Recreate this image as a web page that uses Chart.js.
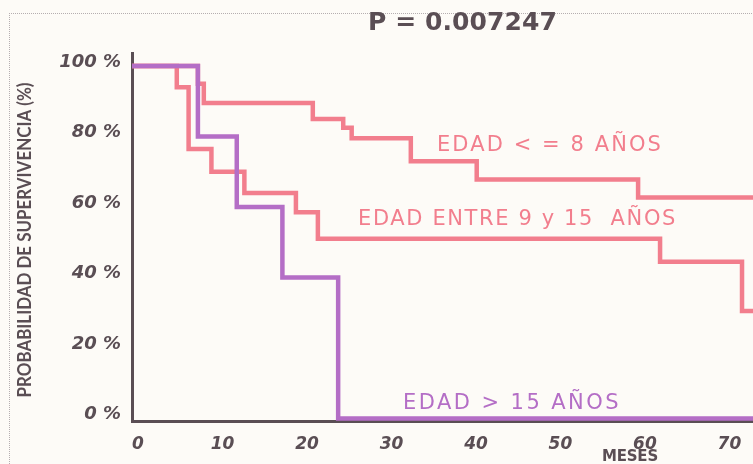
<!DOCTYPE html>
<html>
<head>
<meta charset="utf-8">
<script src="https://cdn.jsdelivr.net/npm/chart.js@4.4.1/dist/chart.umd.min.js"></script>
<style>
  html, body { margin: 0; padding: 0; background: #fdfbf7; }
  #wrap { position: relative; width: 753px; height: 464px; overflow: hidden; }
  #frame { position: absolute; left: 9px; top: 13px; width: 800px; height: 500px;
           border-top: 1px dotted #b5aeb0; border-left: 1px dotted #b5aeb0; }
  canvas { position: absolute; left: 0; top: 0; }
</style>
</head>
<body>
<div id="wrap">
  <div id="frame"></div>
  <canvas id="survivalChart" width="753" height="464"></canvas>
</div>
<script>
// Kaplan-Meier curves, values

const groupLabels = ['EDAD > 15 AÑOS', 'EDAD < = 8 AÑOS', 'EDAD ENTRE 9 y 15  AÑOS'];

const monthsOver15 = [0, 7.8, 12.4, 17.8, 24.4, 73.5];
const survivalOver15 = [100, 80, 60, 40, 0, 0];

const monthsUpTo8 = [0, 7.8, 8.5, 21.4, 25.0, 26.0, 33.0, 40.8, 59.9, 73.5];
const survivalUpTo8 = [100, 95, 89.5, 85, 82.5, 79.5, 73, 67.8, 62.7, 62.7];

const months9to15 = [0, 5.3, 6.7, 9.4, 13.3, 19.4, 22.0, 62.5, 72.2, 73.5];
const survival9to15 = [100, 94, 76.5, 70, 64, 58.5, 51, 44.5, 30.5, 30.5];

const xTicks = [0, 10, 20, 30, 40, 50, 60, 70];
const yTicks = [0, 20, 40, 60, 80, 100];

const pValueText = 'P = 0.007247';
const yTitle = 'PROBABILIDAD DE SUPERVIVENCIA (%)';
const xTitle = 'MESES';

const PINK = '#f27e8d';
const PURPLE = '#b46ec6';
const INK = '#5a4e54';

function toPoints(xs, ys) {
    return xs.map((x, i) => ({ x: x, y: ys[i] }));
}

// the scan uses a wide, spaced-out face; stretch the letter spacing to the same width
function spacedText(ctx, text, x, y, width) {
    ctx.letterSpacing = '0px';
    const natural = ctx.measureText(text).width;
    const extra = (width - natural) / text.length;
    if ('letterSpacing' in ctx) {
        ctx.letterSpacing = extra + 'px';
        ctx.fillText(text, x, y);
        ctx.letterSpacing = '0px';
    } else {
        ctx.save();
        ctx.translate(x, y);
        ctx.scale(width / natural, 1);
        ctx.fillText(text, 0, 0);
        ctx.restore();
    }
}

const annotationPlugin = {
    id: 'annotations',
    afterDraw(chart) {
        const ctx = chart.ctx;
        ctx.save();
        ctx.textBaseline = 'middle';
        ctx.textAlign = 'left';

        ctx.font = 'bold 25px "DejaVu Sans"';
        ctx.fillStyle = INK;
        spacedText(ctx, pValueText, 368, 23, 189);

        ctx.font = '21px "DejaVu Sans"';
        ctx.fillStyle = PINK;
        spacedText(ctx, groupLabels[1], 437, 146, 226);
        spacedText(ctx, groupLabels[2], 358, 220, 319);
        ctx.fillStyle = PURPLE;
        spacedText(ctx, groupLabels[0], 403, 404, 218);

        ctx.font = 'bold 15px "DejaVu Sans"';
        ctx.fillStyle = INK;
        spacedText(ctx, xTitle, 602, 457, 56);

        // rotated y axis title, squeezed to the condensed look of the original
        ctx.save();
        ctx.translate(25, 240);
        ctx.rotate(-Math.PI / 2);
        ctx.font = 'bold 19px Lato';
        ctx.textAlign = 'center';
        const w = ctx.measureText(yTitle).width;
        ctx.scale(315 / w, 1);
        ctx.fillText(yTitle, 0, 0);
        ctx.restore();

        ctx.restore();
    }
};

function createSurvivalChart() {
    const ctx = document.getElementById('survivalChart').getContext('2d');
    return new Chart(ctx, {
        type: 'line',
        data: {
            datasets: [{
                label: groupLabels[0],
                data: toPoints(monthsOver15, survivalOver15),
                borderColor: PURPLE,
                borderWidth: 4.5,
                stepped: 'before',
                pointRadius: 0
            }, {
                label: groupLabels[1],
                data: toPoints(monthsUpTo8, survivalUpTo8),
                borderColor: PINK,
                borderWidth: 4.5,
                stepped: 'before',
                pointRadius: 0
            }, {
                label: groupLabels[2],
                data: toPoints(months9to15, survival9to15),
                borderColor: PINK,
                borderWidth: 4.5,
                stepped: 'before',
                pointRadius: 0
            }]
        },
        options: {
            responsive: false,
            animation: false,
            layout: { padding: { top: 53, left: 0, right: 0, bottom: 0 } },
            plugins: {
                legend: { display: false },
                tooltip: { enabled: false },
                title: { display: false }
            },
            scales: {
                x: {
                    type: 'linear',
                    min: 0,
                    max: 73.5,
                    afterBuildTicks: (scale) => { scale.ticks = xTicks.map(v => ({ value: v })); },
                    afterFit: (scale) => { scale.height = 43; },
                    grid: { display: false },
                    border: { display: true, color: INK, width: 3 },
                    ticks: {
                        padding: 5,
                        labelOffset: 6,
                        maxRotation: 0,
                        autoSkip: false,
                        color: INK,
                        font: { family: 'DejaVu Sans', size: 17, weight: 'bold', style: 'italic' }
                    }
                },
                y: {
                    type: 'linear',
                    min: -0.7,
                    max: 103.7,
                    afterBuildTicks: (scale) => { scale.ticks = yTicks.map(v => ({ value: v })); },
                    afterFit: (scale) => { scale.width = 132; },
                    grid: { display: false },
                    border: { display: true, color: INK, width: 3 },
                    ticks: {
                        padding: 3,
                        labelOffset: -4,
                        color: INK,
                        font: { family: 'DejaVu Sans', size: 18, weight: 'bold', style: 'italic' },
                        callback: (v) => v + ' %'
                    }
                }
            }
        },
        plugins: [annotationPlugin]
    });
}

createSurvivalChart();
</script>
</body>
</html>
